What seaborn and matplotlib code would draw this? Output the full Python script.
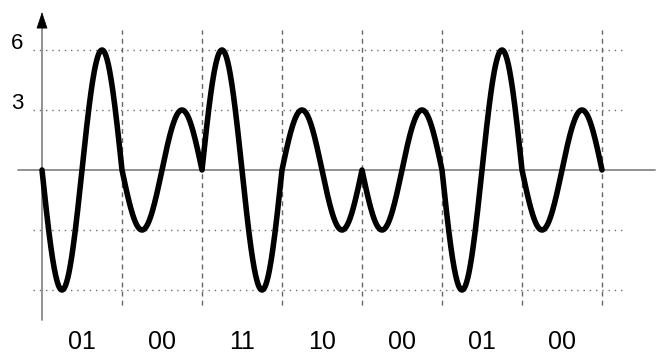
import numpy as np
import pandas as pd
import seaborn as sns
import matplotlib.pyplot as plt

# symbol labels and the carrier amplitude read for each symbol
symbols = ['01', '00', '11', '10', '00', '01', '00']
amplitudes = [-6, -3, 6, 3, -3, -6, -3]
level_ticks = [6, 3]
grid_levels = [6, 3, -3, -6]

# one carrier cycle per symbol
samples = 200
rows = []
for i, amp in enumerate(amplitudes):
    t = np.linspace(0, 1, samples)
    for tt in t:
        rows.append((i + tt, amp * np.sin(2 * np.pi * tt)))
wave = pd.DataFrame(rows, columns=['t', 'v'])

sns.set_theme(style='white')
plt.rcParams['font.family'] = ['Liberation Sans', 'DejaVu Sans']

fig = plt.figure(figsize=(6.58, 3.54), dpi=100)
ax = fig.add_axes([0, 0, 1, 1])
ax.set_xlim(-0.525, 7.7)
ax.set_ylim(-9.2, 8.5)
ax.axis('off')

n = len(symbols)

# dotted level lines
for lv in grid_levels:
    ax.plot([-0.1125, n + 0.25], [lv, lv], color='#707070', lw=1.0,
            linestyle=(0, (1, 3.5)), zorder=1)

# dashed symbol boundaries
for k in range(1, n + 1):
    ax.plot([k, k], [-6.75, 7], color='#666666', lw=1.0,
            linestyle=(0, (3.5, 3)), zorder=1)

# axes lines
ax.plot([-0.3, 7.66], [0, 0], color='#888888', lw=1.3, zorder=2)
ax.plot([0, 0], [-7.5, 7.5], color='#888888', lw=1.3, zorder=2)
ax.annotate('', xy=(0, 7.9), xytext=(0, 7.25),
            arrowprops=dict(arrowstyle='-|>,head_length=0.9,head_width=0.3',
                            color='black', lw=0.5, shrinkA=0, shrinkB=0))
ax.annotate('', xy=(7.85, 0), xytext=(7.66, 0),
            arrowprops=dict(arrowstyle='-|>,head_length=0.9,head_width=0.3',
                            color='black', lw=0.5, shrinkA=0, shrinkB=0))

sns.lineplot(data=wave, x='t', y='v', color='black', linewidth=4,
             ax=ax, zorder=3, sort=False)

for lv in level_ticks:
    ax.text(-0.31, lv + 0.33, str(lv), ha='center', va='center',
            fontsize=16, color='black')

for i, s in enumerate(symbols):
    ax.text(i + 0.5, -8.6, s, ha='center', va='center', fontsize=18,
            color='black')

fig.savefig('out.png', dpi=100)
